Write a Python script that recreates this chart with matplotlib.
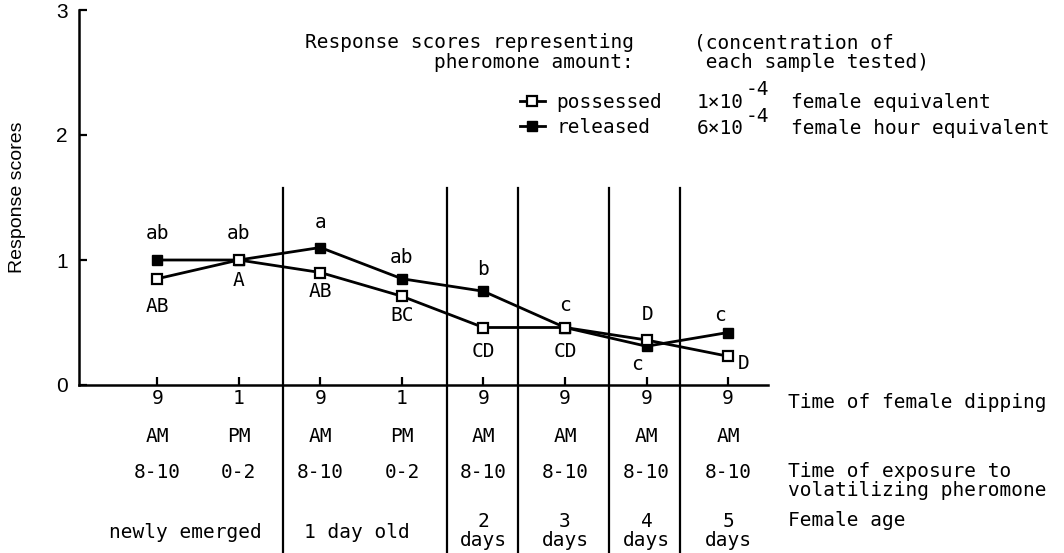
import numpy as np
import matplotlib
matplotlib.use('Agg')
import matplotlib.pyplot as plt

# sample points (8 dipping times)
xpos = np.arange(8)
possessed = [0.85, 1.00, 0.90, 0.71, 0.46, 0.46, 0.36, 0.23]
released = [1.00, 1.00, 1.10, 0.85, 0.75, 0.46, 0.31, 0.42]

# letters of significance
released_letters = ['ab', 'ab', 'a', 'ab', 'b', 'c', 'c', 'c']
possessed_letters = ['AB', 'A', 'AB', 'BC', 'CD', 'CD', 'D', 'D']

# rows of the table under the x axis
dip_time = ['9', '1', '9', '1', '9', '9', '9', '9']
am_pm = ['AM', 'PM', 'AM', 'PM', 'AM', 'AM', 'AM', 'AM']
exposure = ['8-10', '0-2', '8-10', '0-2', '8-10', '8-10', '8-10', '8-10']
age_labels = ['newly emerged', '1 day old', '2\ndays', '3\ndays', '4\ndays', '5\ndays']
age_centers = [0.35, 2.45, 4.0, 5.0, 6.0, 7.0]
separators = [1.54, 3.55, 4.42, 5.54, 6.41]

# label offsets (points) for letters
rel_off = [(0, 19), (0, 19), (0, 18), (0, 15), (0, 16), (0, 16), (-7, -13), (-6, 12)]
pos_off = [(0, -20), (0, -15), (0, -14), (0, -14), (0, -17), (0, -17), (1, 18), (11, -5)]

mono = 'DejaVu Sans Mono'
fs = 14        # table / letters
fl = 14        # legend block

fig = plt.figure(figsize=(10.64, 5.53), dpi=100)
ax = fig.add_axes([79 / 1064, 1 - 385 / 553, (768 - 79) / 1064, (385 - 10) / 553])
ax.set_xlim(-0.96, 7.49)
ax.set_ylim(0, 3)

for s in ['top', 'right']:
    ax.spines[s].set_visible(False)
for s in ['left', 'bottom']:
    ax.spines[s].set_linewidth(1.8)

# vertical separators through plot and table
for sx in separators:
    ax.plot([sx, sx], [1.58, -1.36], color='black', lw=1.6, clip_on=False)

ax.plot(xpos, released, '-s', color='black', lw=2.0, ms=7,
        mfc='black', mec='black', label='released', zorder=3)
ax.plot(xpos, possessed, '-s', color='black', lw=2.0, ms=6.5,
        mfc='white', mec='black', mew=1.6, label='possessed', zorder=4)

for i in range(8):
    ax.annotate(released_letters[i], (xpos[i], released[i]), xytext=rel_off[i],
                textcoords='offset points', ha='center', va='center',
                family=mono, fontsize=fs)
    ax.annotate(possessed_letters[i], (xpos[i], possessed[i]), xytext=pos_off[i],
                textcoords='offset points', ha='center', va='center',
                family=mono, fontsize=fs)

ax.set_yticks([0, 1, 2, 3])
ax.set_yticklabels(['0', '1', '2', '3'], family='Liberation Sans', fontsize=15)
ax.set_xticks(xpos)
ax.set_xticklabels(dip_time, family=mono, fontsize=fs)
ax.tick_params(axis='both', direction='in', length=6, width=1.6)
ax.tick_params(axis='x', pad=3)
ax.tick_params(axis='y', pad=8)
ax.set_ylabel('Response scores', family='Liberation Sans', fontsize=14, labelpad=22)

# table rows
for i in range(8):
    ax.text(xpos[i], -0.416, am_pm[i], ha='center', va='center', family=mono, fontsize=fs)
    ax.text(xpos[i], -0.696, exposure[i], ha='center', va='center', family=mono, fontsize=fs)
for lab, cx in zip(age_labels, age_centers):
    if '\n' in lab:
        ax.text(cx, -1.17, lab, ha='center', va='center', family=mono, fontsize=fs,
                linespacing=1.0)
    else:
        ax.text(cx, -1.18, lab, ha='center', va='center', family=mono, fontsize=fs)

row_x = 7.74
ax.text(row_x, -0.136, 'Time of female dipping', ha='left', va='center', family=mono, fontsize=fs)
ax.text(row_x, -0.77, 'Time of exposure to\nvolatilizing pheromone', ha='left', va='center',
        family=mono, fontsize=fs, linespacing=1.0)
ax.text(row_x, -1.08, 'Female age', ha='left', va='center', family=mono, fontsize=fs)

# legend block
W, H = 1064, 553
fig.text(634 / W, 1 - 43 / H, 'Response scores representing', ha='right', va='center',
         family=mono, fontsize=fl)
fig.text(634 / W, 1 - 63 / H, 'pheromone amount:', ha='right', va='center',
         family=mono, fontsize=fl)
fig.text(694 / W, 1 - 43 / H, '(concentration of', ha='left', va='center',
         family=mono, fontsize=fl)
fig.text(694 / W, 1 - 63 / H, ' each sample tested)', ha='left', va='center',
         family=mono, fontsize=fl)

handles, labels = ax.get_legend_handles_labels()
leg = ax.legend(handles[::-1], labels[::-1], loc='center left',
                bbox_to_anchor=(510 / W, 1 - 115 / H), bbox_transform=fig.transFigure,
                frameon=False, handlelength=1.3, handletextpad=0.6, labelspacing=0.3,
                prop={'family': mono, 'size': fl}, borderpad=0)

conc = ['1', '6']
conc_text = ['female equivalent', 'female hour equivalent']
for k, yy in enumerate([102, 128]):
    fig.text(697 / W, 1 - yy / H, conc[k] + '\u00d710', ha='left', va='center',
             family=mono, fontsize=fl)
    fig.text(746 / W, 1 - (yy - 12) / H, '-4', ha='left', va='center',
             family=mono, fontsize=fl)
    fig.text(791 / W, 1 - yy / H, conc_text[k], ha='left', va='center',
             family=mono, fontsize=fl)

fig.savefig('out.png', dpi=100)
